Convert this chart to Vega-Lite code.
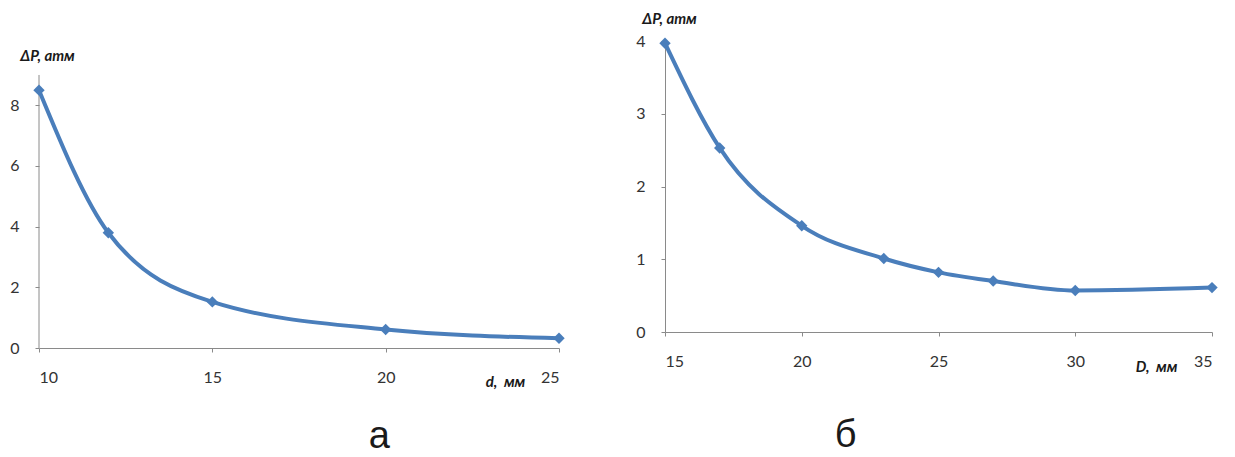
{
  "$schema": "https://vega.github.io/schema/vega-lite/v6.json",
  "padding": {"left": 9, "top": 11, "right": 5, "bottom": 0},
  "bounds": "flush",
  "spacing": 106,
  "background": "white",
  "config": {
    "view": {"stroke": null},
    "axis": {
      "grid": false,
      "domainColor": "#8a8a8a",
      "tickColor": "#8a8a8a",
      "tickSize": 4,
      "labelFont": "Lato",
      "labelFontSize": 16,
      "labelColor": "#333333",
      "titleFont": "Lato",
      "titleFontSize": 15,
      "titleFontWeight": "bold",
      "titleFontStyle": "italic",
      "titleColor": "#1a1a1a",
      "titleAngle": 0,
      "titleAlign": "center",
      "titleBaseline": "middle"
    },
    "title": {"font": "Liberation Sans", "fontSize": 38, "fontWeight": "normal", "color": "#1a1a1a"}
  },
  "hconcat": [
    {
      "width": 520,
      "height": 307,
      "title": {"text": "а", "orient": "bottom", "anchor": "start", "dx": 359, "offset": 29},
      "data": {"values": [
        {"d": 10, "dp": 8.5},
        {"d": 12, "dp": 3.8},
        {"d": 15, "dp": 1.52},
        {"d": 20, "dp": 0.61},
        {"d": 25, "dp": 0.32}
      ]},
      "encoding": {
        "x": {"field": "d", "type": "quantitative",
              "scale": {"domain": [10, 25], "nice": false, "zero": false},
              "axis": {"values": [10, 15, 20, 25], "title": "d,\u00a0 мм", "titleX": 466, "titleY": 33, "labelPadding": 17}},
        "y": {"field": "dp", "type": "quantitative",
              "scale": {"domain": [0, 10.12], "nice": false},
              "axis": {"values": [0, 2, 4, 6, 8], "domain": false, "title": "ΔP, атм", "titleX": 8, "titleY": 14, "labelPadding": 16}}
      },
      "layer": [
        {
          "data": {"values": [{"d": 10, "dp": 0, "dp2": 9}]},
          "mark": {"type": "rule", "color": "#8a8a8a", "strokeWidth": 1},
          "encoding": {"y2": {"field": "dp2"}}
        },
        {
          "mark": {"type": "line", "interpolate": "monotone", "color": "#4a7ebb", "strokeWidth": 4}
        },
        {
          "mark": {"type": "point", "shape": "diamond", "filled": true, "size": 130, "color": "#4a7ebb", "opacity": 1}
        }
      ]
    },
    {
      "width": 547,
      "height": 291,
      "title": {"text": "б", "orient": "bottom", "anchor": "start", "dx": 199, "offset": 43},
      "data": {"values": [
        {"D": 15, "dp": 3.97},
        {"D": 17, "dp": 2.53},
        {"D": 20, "dp": 1.46},
        {"D": 23, "dp": 1.01},
        {"D": 25, "dp": 0.82},
        {"D": 27, "dp": 0.7},
        {"D": 30, "dp": 0.57},
        {"D": 35, "dp": 0.61}
      ]},
      "encoding": {
        "x": {"field": "D", "type": "quantitative",
              "scale": {"domain": [15, 35], "nice": false, "zero": false},
              "axis": {"values": [15, 20, 25, 30, 35], "title": "D,\u00a0 мм", "titleX": 491, "titleY": 34, "labelPadding": 17}},
        "y": {"field": "dp", "type": "quantitative",
              "scale": {"domain": [0, 4], "nice": false},
              "axis": {"values": [0, 1, 2, 3, 4], "title": "ΔP, атм", "titleX": 4, "titleY": -23, "labelPadding": 16}}
      },
      "layer": [
        {
          "mark": {"type": "line", "interpolate": "monotone", "color": "#4a7ebb", "strokeWidth": 4}
        },
        {
          "mark": {"type": "point", "shape": "diamond", "filled": true, "size": 130, "color": "#4a7ebb", "opacity": 1}
        }
      ]
    }
  ]
}
